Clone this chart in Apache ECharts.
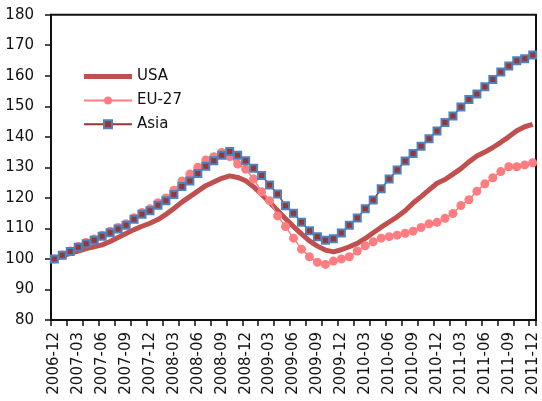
<!DOCTYPE html>
<html>
<head>
<meta charset="utf-8">
<script src="https://cdn.jsdelivr.net/npm/echarts@6/dist/echarts.min.js"></script>
<style>html,body{margin:0;padding:0;background:#fff}#c{width:542px;height:401px}</style>
</head>
<body>
<div id="c"></div>
<script>
var months = ['2006-12','2007-01','2007-02','2007-03','2007-04','2007-05','2007-06','2007-07','2007-08','2007-09','2007-10','2007-11','2007-12',
'2008-01','2008-02','2008-03','2008-04','2008-05','2008-06','2008-07','2008-08','2008-09','2008-10','2008-11','2008-12',
'2009-01','2009-02','2009-03','2009-04','2009-05','2009-06','2009-07','2009-08','2009-09','2009-10','2009-11','2009-12',
'2010-01','2010-02','2010-03','2010-04','2010-05','2010-06','2010-07','2010-08','2010-09','2010-10','2010-11','2010-12',
'2011-01','2011-02','2011-03','2011-04','2011-05','2011-06','2011-07','2011-08','2011-09','2011-10','2011-11','2011-12'];

var usa = [100.0,100.9,101.8,102.6,103.4,104.0,104.6,105.7,107.0,108.3,
109.6,110.7,111.7,112.9,114.6,116.5,118.6,120.4,122.2,124.0,
125.2,126.4,127.2,126.7,125.6,123.6,121.2,118.6,115.9,113.2,
110.6,108.2,105.9,104.2,102.9,102.3,103.0,104.0,105.1,106.7,
108.6,110.4,112.1,113.8,115.8,118.3,120.4,122.6,124.8,126.0,
127.8,129.6,131.8,133.7,135.0,136.5,138.2,140.0,142.0,143.3,144.1];

var eu27 = [100.0,101.3,102.6,104.1,105.4,106.5,107.8,109.1,110.3,111.5,
113.5,115.2,116.4,118.4,120.0,122.5,125.5,127.8,130.0,132.4,
133.5,134.9,133.5,131.1,129.4,126.2,122.0,119.1,114.1,110.6,
106.8,103.2,100.7,98.9,98.2,99.3,100.0,100.7,102.6,104.3,
105.6,106.8,107.3,107.8,108.4,109.1,110.3,111.5,112.0,113.3,
114.9,117.5,119.4,122.2,124.6,126.6,128.6,130.2,130.2,130.8,131.5];

var asia = [100.0,101.2,102.4,103.8,105.0,106.1,107.4,108.6,109.8,111.0,
113.0,114.6,115.8,117.6,119.1,121.1,123.7,125.5,128.0,130.4,
132.2,134.0,135.2,134.0,132.2,129.7,127.3,124.2,121.3,117.4,
115.0,112.0,109.2,107.3,106.1,106.6,108.5,111.0,113.4,116.4,
119.3,123.0,126.2,129.1,132.1,134.5,136.9,139.4,141.9,144.7,
146.8,149.8,152.2,154.0,156.4,158.8,161.2,163.2,164.9,165.6,166.8];

var seriesNames = ['USA','EU-27','Asia'];
var yMin = 80, yMax = 180, yStep = 10;

var font = 'DejaVu Sans';
var chart = echarts.init(document.getElementById('c'), null, {renderer:'canvas'});
chart.setOption({
  animation: false,
  backgroundColor: '#fff',
  textStyle: {fontFamily: font},
  grid: [
    {left: 54.3, right: 9.3, top: 14.7, bottom: 81, show: false},
    {left: 51, right: 6, top: 14.7, bottom: 81, show: true, borderColor: '#111', borderWidth: 2, backgroundColor: 'transparent'}
  ],
  legend: {
    orient: 'vertical', left: 83, top: 69, padding: 0, itemWidth: 48, itemHeight: 10, itemGap: 8.9,
    textStyle: {fontFamily: font, fontSize: 15, color: '#111'},
    data: [
      {name: seriesNames[0], icon: 'path://M0,0L0.01,0L0,0.01Z M0,2.5L48,2.5L48,7.5L0,7.5Z M0,10L0.01,10L0,9.99Z'},
      {name: seriesNames[1]},
      {name: seriesNames[2]}
    ]
  },
  xAxis: [
    {type: 'category', gridIndex: 0, data: months, boundaryGap: false,
     axisLine: {show: true, lineStyle: {color: '#111', width: 2}},
     axisTick: {show: false},
     axisLabel: {interval: 2, rotate: 90, margin: 12, fontFamily: font, fontSize: 15, color: '#111'},
     splitLine: {show: false}},
    {type: 'value', gridIndex: 1, min: 0, max: 60.85, interval: 2,
     axisLine: {show: false},
     axisTick: {show: true, length: 6, lineStyle: {color: '#111', width: 1.5}},
     axisLabel: {show: false}, splitLine: {show: false}}
  ],
  yAxis: [
    {type: 'value', gridIndex: 0, min: yMin, max: yMax, interval: yStep, offset: 3.3,
     axisLine: {show: true, lineStyle: {color: '#111', width: 2}},
     axisTick: {show: true, length: 6, lineStyle: {color: '#111', width: 1.5}},
     axisLabel: {margin: 17, fontFamily: font, fontSize: 15, color: '#111'},
     splitLine: {show: false}},
    {type: 'value', gridIndex: 1, min: yMin, max: yMax, show: false, splitLine: {show: false}}
  ],
  series: [
    {name: 'USA', type: 'line', xAxisIndex: 0, yAxisIndex: 0, data: usa,
     symbol: 'none', showSymbol: false, smooth: false,
     lineStyle: {color: '#C0504D', width: 5}, itemStyle: {color: '#C0504D'}},
    {name: 'EU-27', type: 'line', xAxisIndex: 0, yAxisIndex: 0, data: eu27,
     symbol: 'circle', symbolSize: 9, showSymbol: true, showAllSymbol: true,
     lineStyle: {color: '#FF7C80', width: 1.5}, itemStyle: {color: '#FF7C80'}},
    {name: 'Asia', type: 'line', xAxisIndex: 0, yAxisIndex: 0, data: asia,
     symbol: 'rect', symbolSize: 7, showSymbol: true, showAllSymbol: true,
     lineStyle: {color: '#953735', width: 1.5}, itemStyle: {color: '#953735', borderColor: '#4F81BD', borderWidth: 2}}
  ]
});
</script>
</body>
</html>
